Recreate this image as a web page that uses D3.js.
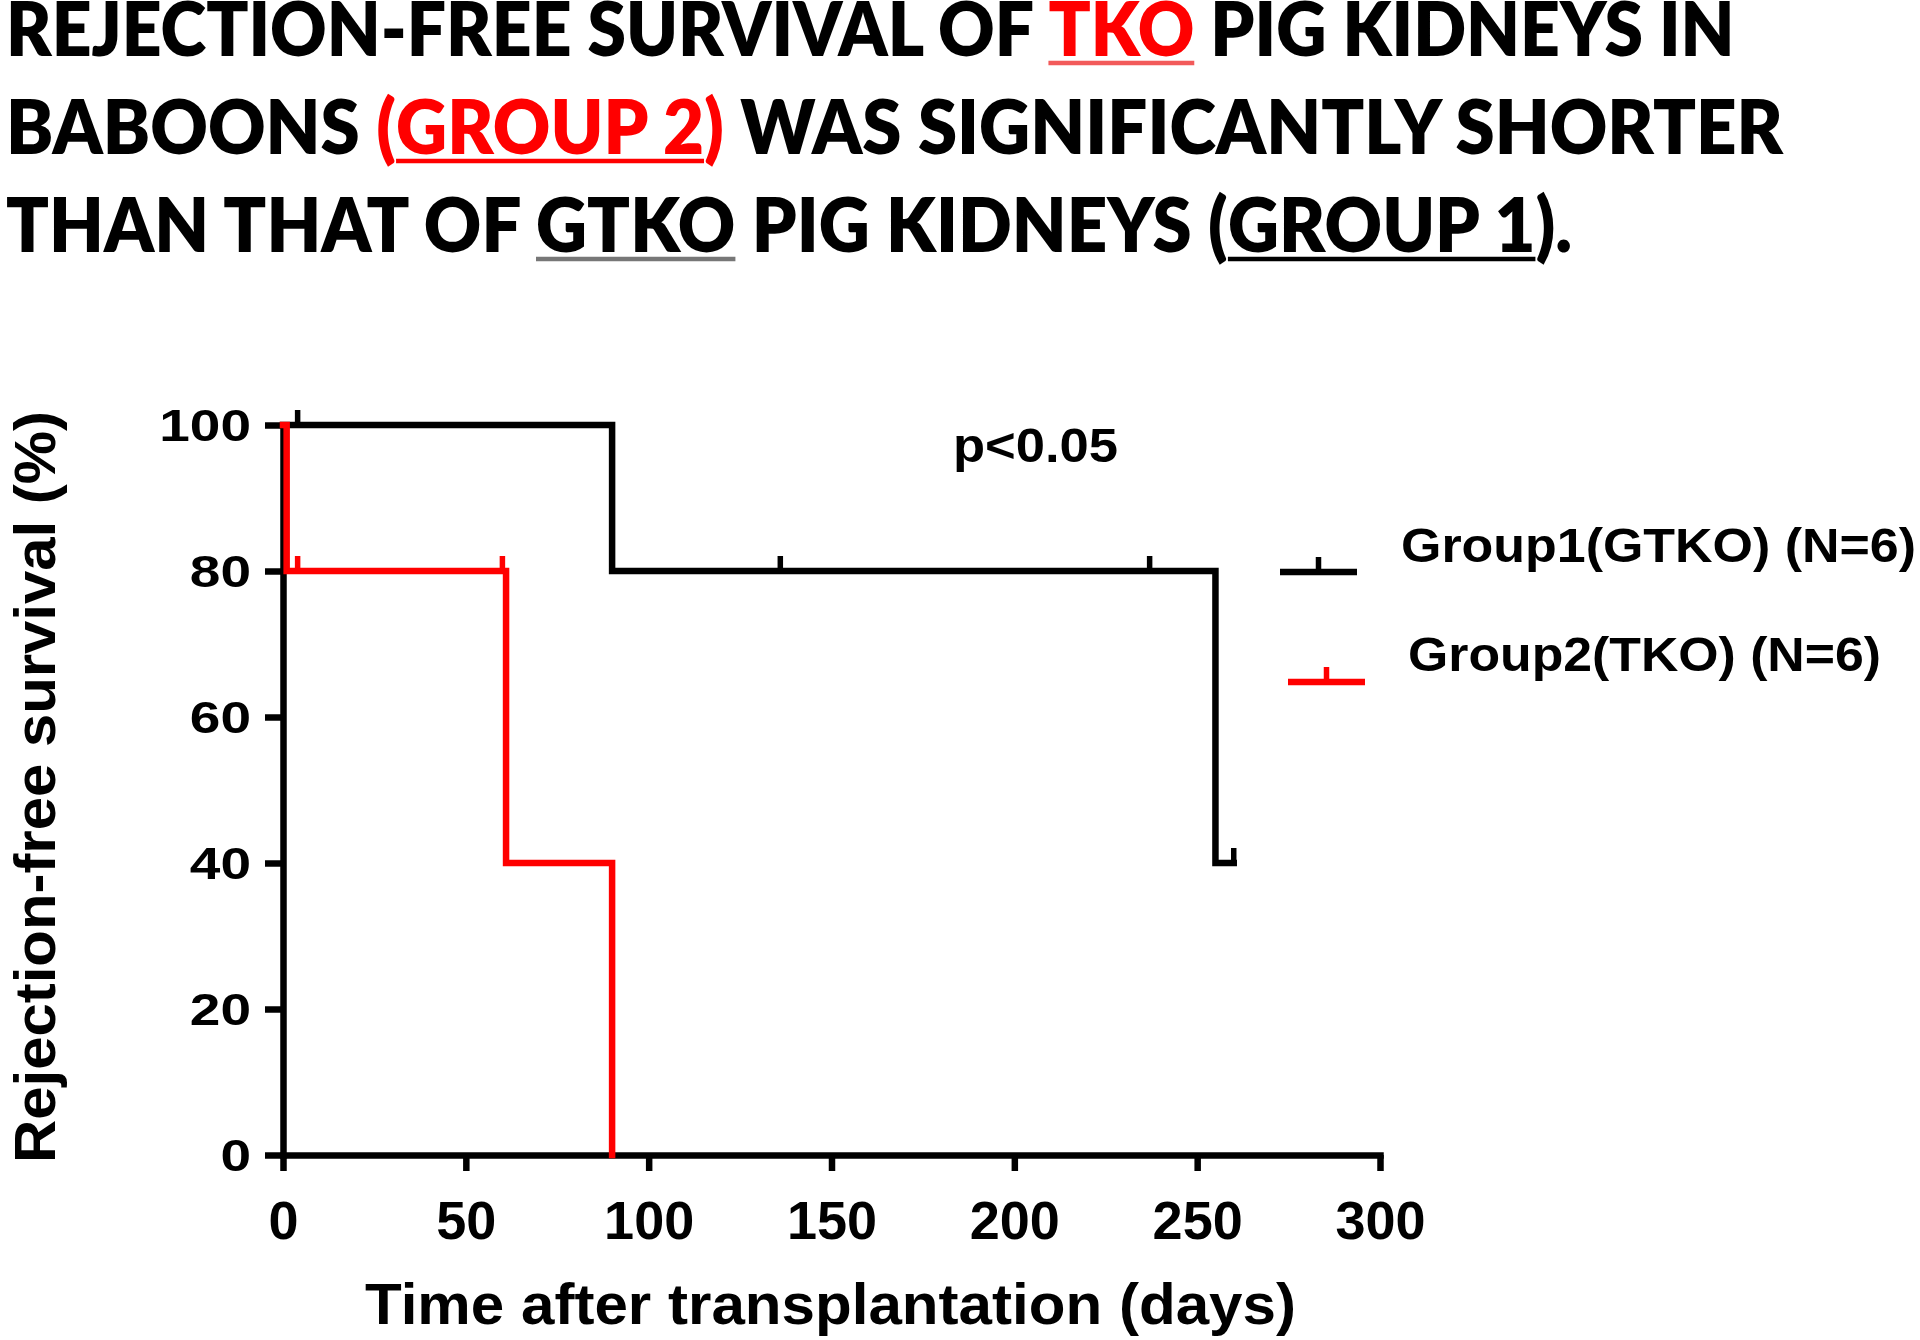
<!DOCTYPE html>
<html>
<head>
<meta charset="utf-8">
<script src="https://cdn.jsdelivr.net/npm/d3@7"></script>
<style>
  html, body { margin: 0; padding: 0; background: #fff; }
  svg { display: block; }
</style>
</head>
<body>
<svg id="chart" width="1920" height="1340"></svg>
<script>
// ---------- data ----------
const titleLines = [
  [{t: "REJECTION-FREE SURVIVAL OF ", c: "#000"}, {t: "TKO", c: "#ff0000", u: "#f25a5a"}, {t: " PIG KIDNEYS IN", c: "#000"}],
  [{t: "BABOONS ", c: "#000"}, {t: "(", c: "#ff0000"}, {t: "GROUP 2", c: "#ff0000", u: "#ff0000"}, {t: ")", c: "#ff0000"}, {t: " WAS SIGNIFICANTLY SHORTER", c: "#000"}],
  [{t: "THAN THAT OF ", c: "#000"}, {t: "GTKO", c: "#000", u: "#777"}, {t: " PIG KIDNEYS (", c: "#000"}, {t: "GROUP 1", c: "#000", u: "#000"}, {t: ").", c: "#000"}]
];
const titleWidths = [1727, 1776, 1565];

const xTicks = [0, 50, 100, 150, 200, 250, 300];
const yTicks = [0, 20, 40, 60, 80, 100];
const xLabel = "Time after transplantation (days)";
const yLabel = "Rejection-free survival (%)";
const pText = "p<0.05";

const seriesNames = ["Group1(GTKO) (N=6)", "Group2(TKO) (N=6)"];
const seriesColors = ["#000000", "#ff0000"];
// step points: [day, survival %]
const group1Steps = [[0, 100], [90, 80], [255, 40], [260, 40]];
const group1Censor = [[4, 100], [136, 80], [237, 80], [260, 40]];
const group2Steps = [[0, 100], [1, 80], [61, 40], [90, 0]];
const group2Censor = [[4, 80], [60, 80]];

// ---------- layout ----------
const svg = d3.select("#chart");
const plotL = 283, plotR = 1380, plotT = 425, plotB = 1155;
const x = d3.scaleLinear().domain([0, 300]).range([plotL, plotR]);
const y = d3.scaleLinear().domain([0, 100]).range([plotB, plotT]);
const LW = 6.5;

// ---------- title ----------
const baselines = [56, 154, 252];
titleLines.forEach((parts, i) => {
  const g = svg.append("g");
  const txt = g.append("text")
    .attr("x", 0).attr("y", 0)
    .attr("font-family", "Lato, 'Open Sans', sans-serif")
    .attr("font-weight", 800)
    .attr("font-size", 75);
  parts.forEach(p => txt.append("tspan").attr("fill", p.c).text(p.t));
  const node = txt.node();
  const natural = node.getComputedTextLength();
  const sx = titleWidths[i] / natural;
  g.attr("transform", `translate(6,${baselines[i]}) scale(${sx},1)`);
  let idx = 0;
  parts.forEach(p => {
    if (p.u) {
      const x0 = idx === 0 ? 0 : node.getSubStringLength(0, idx);
      const w = node.getSubStringLength(idx, p.t.length);
      g.append("line")
        .attr("x1", x0).attr("x2", x0 + w)
        .attr("y1", 7).attr("y2", 7)
        .attr("stroke", p.u).attr("stroke-width", 4.5);
    }
    idx += p.t.length;
  });
});

// ---------- axes ----------
const xAxis = svg.append("g")
  .attr("transform", `translate(0,${plotB})`)
  .call(d3.axisBottom(x).tickValues(xTicks).tickSize(16).tickSizeOuter(0).tickFormat(d3.format("d")));
xAxis.select(".domain").attr("stroke", "#000").attr("stroke-width", LW);
xAxis.selectAll(".tick line").attr("stroke", "#000").attr("stroke-width", LW);
xAxis.selectAll(".tick text")
  .attr("y", 84).attr("dy", 0)
  .attr("font-family", "'Liberation Sans', Arial, sans-serif")
  .attr("font-weight", 700).attr("font-size", 54).attr("fill", "#000");

const yAxis = svg.append("g")
  .attr("transform", `translate(${plotL},0)`)
  .call(d3.axisLeft(y).tickValues(yTicks).tickSize(18).tickSizeOuter(0).tickFormat(d3.format("d")));
yAxis.select(".domain").attr("stroke", "#000").attr("stroke-width", LW);
yAxis.selectAll(".tick line").attr("stroke", "#000").attr("stroke-width", LW);
const ySX = 1.25;
yAxis.selectAll(".tick text")
  .attr("x", -32 / ySX).attr("dy", "0.36em")
  .attr("transform", `scale(${ySX},1)`)
  .attr("font-family", "'Liberation Sans', Arial, sans-serif")
  .attr("font-weight", 700).attr("font-size", 44).attr("fill", "#000");
svg.selectAll(".domain").attr("stroke-linecap", "square");

// axis titles
svg.append("text")
  .attr("x", 365).attr("y", 1324)
  .attr("textLength", 931).attr("lengthAdjust", "spacingAndGlyphs")
  .attr("font-family", "'Liberation Sans', Arial, sans-serif")
  .attr("font-weight", 700).attr("font-size", 58).attr("fill", "#000")
  .text(xLabel);

svg.append("text")
  .attr("transform", `translate(55,1163) rotate(-90)`)
  .attr("x", 0).attr("y", 0)
  .attr("textLength", 752).attr("lengthAdjust", "spacingAndGlyphs")
  .attr("font-family", "'Liberation Sans', Arial, sans-serif")
  .attr("font-weight", 700).attr("font-size", 58).attr("fill", "#000")
  .text(yLabel);

// ---------- survival curves ----------
const line = d3.line().x(d => x(d[0])).y(d => y(d[1])).curve(d3.curveStepAfter);
const series = [
  {steps: group1Steps, censor: group1Censor, color: seriesColors[0]},
  {steps: group2Steps, censor: group2Censor, color: seriesColors[1]}
];
series.forEach(s => {
  svg.append("path")
    .attr("d", line(s.steps))
    .attr("fill", "none")
    .attr("stroke", s.color)
    .attr("stroke-width", LW)
    .attr("stroke-linejoin", "miter")
    .attr("stroke-linecap", "square");
  svg.selectAll(null).data(s.censor).enter().append("line")
    .attr("x1", d => x(d[0])).attr("x2", d => x(d[0]))
    .attr("y1", d => y(d[1])).attr("y2", d => y(d[1]) - 15)
    .attr("stroke", s.color).attr("stroke-width", 5.5);
});

// p value
svg.append("text")
  .attr("x", 953).attr("y", 462)
  .attr("textLength", 165).attr("lengthAdjust", "spacingAndGlyphs")
  .attr("font-family", "'Liberation Sans', Arial, sans-serif")
  .attr("font-weight", 700).attr("font-size", 48).attr("fill", "#000")
  .text(pText);

// ---------- legend ----------
const legendItems = [
  {name: seriesNames[0], color: seriesColors[0], lx: 1280, ly: 572, tx: 1401, ty: 562, tw: 515},
  {name: seriesNames[1], color: seriesColors[1], lx: 1288, ly: 682, tx: 1408, ty: 671, tw: 473}
];
legendItems.forEach(it => {
  svg.append("line")
    .attr("x1", it.lx).attr("x2", it.lx + 77)
    .attr("y1", it.ly).attr("y2", it.ly)
    .attr("stroke", it.color).attr("stroke-width", LW);
  svg.append("line")
    .attr("x1", it.lx + 38.5).attr("x2", it.lx + 38.5)
    .attr("y1", it.ly).attr("y2", it.ly - 15)
    .attr("stroke", it.color).attr("stroke-width", 5.5);
  svg.append("text")
    .attr("x", it.tx).attr("y", it.ty)
    .attr("textLength", it.tw).attr("lengthAdjust", "spacingAndGlyphs")
    .attr("font-family", "'Liberation Sans', Arial, sans-serif")
    .attr("font-weight", 700).attr("font-size", 48).attr("fill", "#000")
    .text(it.name);
});
</script>
</body>
</html>
